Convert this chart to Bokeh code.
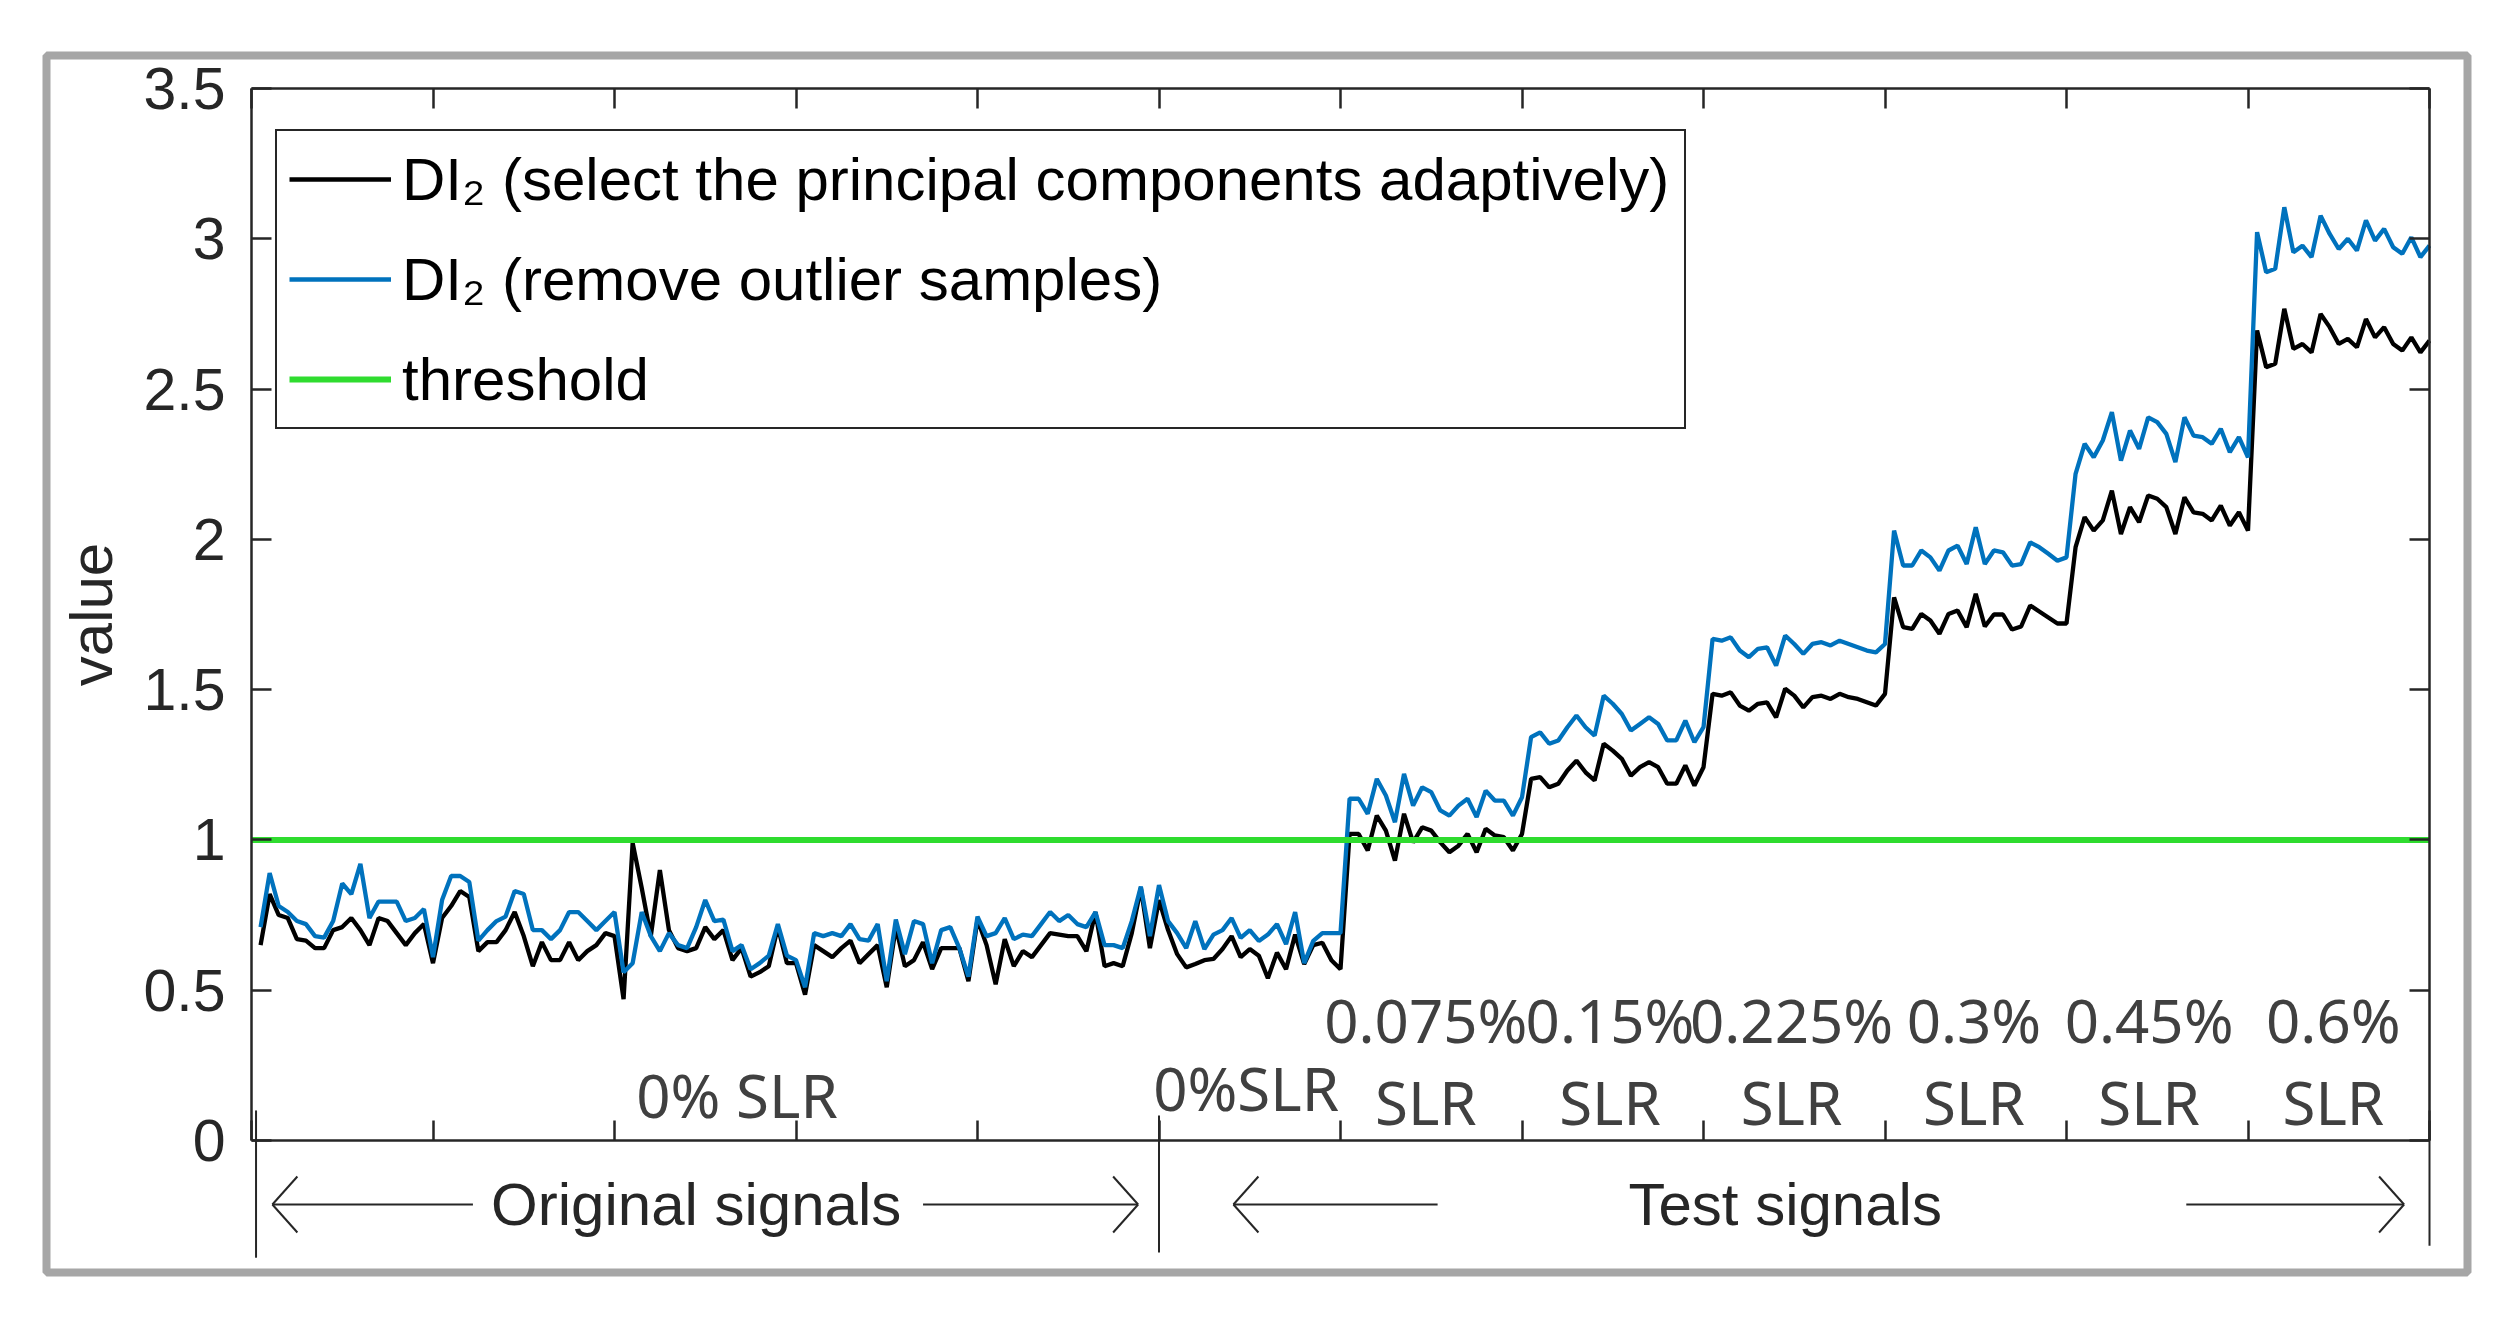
import math
from bokeh.plotting import figure
from bokeh.models import (Range1d, LinearAxis, FixedTicker, CustomJSTickFormatter,
                          Legend, LegendItem)
from bokeh.core.properties import value
from bokeh.embed import file_html
from bokeh.resources import INLINE

# ---------------- data ----------------
di2_adaptive = [
    0.65, 0.82, 0.75, 0.74, 0.67, 0.665, 0.64, 0.64, 0.70, 0.71,
    0.74, 0.70, 0.65, 0.74, 0.73, 0.69, 0.65, 0.69, 0.72, 0.59,
    0.74, 0.78, 0.83, 0.81, 0.63, 0.66, 0.66, 0.70, 0.76, 0.68,
    0.58, 0.66, 0.60, 0.60, 0.66, 0.60, 0.63, 0.65, 0.69, 0.68,
    0.47, 0.99, 0.84, 0.68, 0.90, 0.70, 0.64, 0.63, 0.64, 0.71,
    0.67, 0.70, 0.60, 0.64, 0.545, 0.56, 0.58, 0.71, 0.59, 0.59,
    0.485, 0.65, 0.63, 0.61, 0.64, 0.665, 0.59, 0.62, 0.65, 0.51,
    0.71, 0.58, 0.60, 0.66, 0.57, 0.64, 0.64, 0.64, 0.53, 0.735,
    0.65, 0.52, 0.67, 0.58, 0.63, 0.61, 0.65, 0.69, 0.685, 0.68,
    0.68, 0.63, 0.76, 0.58, 0.59, 0.58, 0.69, 0.84, 0.64, 0.80,
    0.70, 0.62, 0.576, 0.587, 0.60, 0.604, 0.637, 0.68, 0.61, 0.637,
    0.615, 0.54, 0.625, 0.57, 0.685, 0.587, 0.65, 0.658, 0.60, 0.57,
    1.020, 1.020, 0.965, 1.081, 1.031, 0.931, 1.087, 0.992, 1.042, 1.031,
    0.992, 0.959, 0.981, 1.020, 0.959, 1.037, 1.015, 1.009, 0.965, 1.020,
    1.203, 1.209, 1.175, 1.187, 1.231, 1.264, 1.225, 1.198, 1.320, 1.297,
    1.270, 1.214, 1.242, 1.259, 1.242, 1.187, 1.187, 1.248, 1.181, 1.242,
    1.486, 1.480, 1.491, 1.447, 1.430, 1.453, 1.458, 1.408, 1.503, 1.480,
    1.441, 1.475, 1.480, 1.469, 1.486, 1.475, 1.469, 1.458, 1.447, 1.486,
    1.807, 1.708, 1.702, 1.752, 1.730, 1.686, 1.752, 1.763, 1.708, 1.819,
    1.710, 1.750, 1.750, 1.700, 1.710, 1.780, 1.760, 1.740, 1.720, 1.720,
    1.974, 2.074, 2.029, 2.063, 2.162, 2.018, 2.107, 2.057, 2.146, 2.135,
    2.107, 2.018, 2.140, 2.090, 2.085, 2.063, 2.112, 2.046, 2.090, 2.029,
    2.695, 2.573, 2.584, 2.767, 2.634, 2.650, 2.622, 2.750, 2.706, 2.650,
    2.667, 2.639, 2.733, 2.672, 2.706, 2.650, 2.628, 2.672, 2.622, 2.661,
]

di2_outlier = [
    0.71, 0.89, 0.78, 0.76, 0.73, 0.72, 0.68, 0.675, 0.73, 0.855,
    0.82, 0.92, 0.74, 0.795, 0.795, 0.795, 0.73, 0.74, 0.77, 0.61,
    0.80, 0.88, 0.88, 0.86, 0.665, 0.70, 0.73, 0.745, 0.83, 0.82,
    0.70, 0.70, 0.67, 0.70, 0.76, 0.76, 0.73, 0.70, 0.73, 0.76,
    0.56, 0.59, 0.76, 0.68, 0.63, 0.69, 0.65, 0.64, 0.71, 0.80,
    0.73, 0.735, 0.63, 0.65, 0.57, 0.59, 0.615, 0.72, 0.615, 0.60,
    0.51, 0.69, 0.68, 0.69, 0.68, 0.72, 0.67, 0.665, 0.72, 0.53,
    0.735, 0.62, 0.73, 0.72, 0.59, 0.70, 0.71, 0.64, 0.545, 0.745,
    0.68, 0.69, 0.74, 0.67, 0.685, 0.68, 0.72, 0.76, 0.73, 0.75,
    0.72, 0.71, 0.76, 0.65, 0.65, 0.64, 0.73, 0.845, 0.68, 0.85,
    0.73, 0.69, 0.64, 0.73, 0.637, 0.685, 0.70, 0.74, 0.674, 0.70,
    0.664, 0.685, 0.72, 0.653, 0.76, 0.59, 0.664, 0.69, 0.69, 0.69,
    1.137, 1.137, 1.087, 1.203, 1.148, 1.059, 1.220, 1.114, 1.175, 1.159,
    1.098, 1.081, 1.114, 1.137, 1.076, 1.164, 1.131, 1.131, 1.081, 1.142,
    1.342, 1.358, 1.320, 1.331, 1.375, 1.414, 1.375, 1.347, 1.480, 1.453,
    1.419, 1.364, 1.386, 1.408, 1.386, 1.331, 1.331, 1.397, 1.325, 1.375,
    1.669, 1.663, 1.674, 1.630, 1.608, 1.636, 1.641, 1.580, 1.680, 1.652,
    1.619, 1.652, 1.658, 1.647, 1.663, 1.652, 1.641, 1.630, 1.624, 1.652,
    2.029, 1.913, 1.913, 1.963, 1.940, 1.896, 1.963, 1.979, 1.918, 2.040,
    1.918, 1.963, 1.957, 1.913, 1.918, 1.990, 1.974, 1.952, 1.929, 1.940,
    2.218, 2.318, 2.273, 2.329, 2.423, 2.262, 2.362, 2.301, 2.406, 2.390,
    2.351, 2.257, 2.406, 2.345, 2.340, 2.318, 2.368, 2.290, 2.340, 2.273,
    3.022, 2.889, 2.900, 3.105, 2.955, 2.977, 2.939, 3.077, 3.016, 2.966,
    3.000, 2.961, 3.061, 2.994, 3.033, 2.972, 2.950, 3.005, 2.939, 2.977,
]

samples = list(range(1, len(di2_adaptive) + 1))
threshold_x = [0, 240]
threshold_y = [1.0, 1.0]

legend_labels = ["DI\u2082 (select the principal components adaptively)",
                 "DI\u2082 (remove outlier samples)",
                 "threshold"]

y_ticks = [0, 0.5, 1, 1.5, 2, 2.5, 3, 3.5]
x_ticks = list(range(0, 241, 20))

group_labels = ["Original signals", "Test signals"]
group_label_x = [49.0, 169.0]
orig_label = "0% SLR"
test0_label = "0%SLR"
slr_pct_labels = ["0.075%", "0.15%", "0.225%", "0.3%", "0.45%", "0.6%"]
slr_x = [129.4, 149.7, 169.7, 189.8, 209.1, 229.4]

# ---------------- layout (pixels) ----------------
W, H = 2500, 1310
FL, FR, FT, FB = 46, 2467, 55, 1272        # plot frame = outer grey box
AXL, AXR, AXT, AXB = 251, 2429, 88, 1140   # data box (x 0..240, y 0..3.5)
sx = (AXR - AXL) / 240.0
sy = (AXB - AXT) / 3.5
x_lo = (FL - AXL) / sx
x_hi = (FR - AXL) / sx
y_hi = (AXB - FT) / sy
y_lo = (AXB - FB) / sy

AX = "#262626"
BLUE = "#0072BD"
GREEN = "#2fdc2f"
FONT = "Liberation Sans"
FONT2 = "Noto Sans"

p = figure(width=W, height=H, output_backend="svg", toolbar_location=None,
           x_range=Range1d(x_lo, x_hi), y_range=Range1d(y_lo, y_hi),
           x_axis_location=None, y_axis_location=None,
           min_border_left=FL, min_border_right=W - FR,
           min_border_top=FT, min_border_bottom=H - FB)
p.outline_line_color = "#a6a6a6"
p.outline_line_width = 8
p.outline_line_alpha = 1.0
p.xgrid.visible = False
p.ygrid.visible = False
p.background_fill_color = "white"
p.border_fill_color = "white"


def style_axis(ax):
    ax.axis_line_color = AX
    ax.axis_line_width = 2.5
    ax.major_tick_line_color = AX
    ax.major_tick_line_width = 2.5
    ax.major_tick_in = 20
    ax.major_tick_out = 0
    ax.minor_tick_line_color = None


def hide_labels(ax):
    ax.formatter = CustomJSTickFormatter(code="return ''")
    ax.major_label_text_color = None
    ax.major_label_standoff = 0


left = LinearAxis(ticker=FixedTicker(ticks=y_ticks), bounds=(0, 3.5), fixed_location=0,
                  formatter=CustomJSTickFormatter(code="return tick.toString()"))
style_axis(left)
left.major_label_text_font = FONT
left.major_label_text_font_size = "59px"
left.major_label_text_color = AX
left.major_label_standoff = 26
p.add_layout(left, "left")

right = LinearAxis(ticker=FixedTicker(ticks=y_ticks), bounds=(0, 3.5), fixed_location=240)
style_axis(right)
hide_labels(right)
p.add_layout(right, "right")

top = LinearAxis(ticker=FixedTicker(ticks=x_ticks), bounds=(0, 240), fixed_location=3.5)
style_axis(top)
hide_labels(top)
p.add_layout(top, "above")

bottom = LinearAxis(ticker=FixedTicker(ticks=x_ticks), bounds=(0, 240), fixed_location=0)
style_axis(bottom)
hide_labels(bottom)
p.add_layout(bottom, "below")

# y axis title
p.text(x=[(91 - AXL) / sx], y=[1.75], text=["value"], angle=math.pi / 2,
       text_font=value(FONT), text_font_size="60px", text_color=AX,
       text_align="center", text_baseline="middle")

# ---------------- series ----------------
r_black = p.line(samples, di2_adaptive, line_color="black", line_width=4.3)
r_blue = p.line(samples, di2_outlier, line_color=BLUE, line_width=4.3)
r_thr = p.line(threshold_x, threshold_y, line_color=GREEN, line_width=6)

legend = Legend(items=[LegendItem(label=legend_labels[0], renderers=[r_black]),
                       LegendItem(label=legend_labels[1], renderers=[r_blue]),
                       LegendItem(label=legend_labels[2], renderers=[r_thr])],
                location=(275 - FL, FB - 429), orientation="vertical", margin=0,
                padding=12, spacing=28, glyph_width=102, glyph_height=72,
                label_height=72, label_width=1270, label_standoff=11,
                label_text_font=FONT, label_text_font_size="60px",
                label_text_color="black", label_text_baseline="middle",
                border_line_color=AX, border_line_width=2.5, border_line_alpha=1.0,
                background_fill_color="white", background_fill_alpha=1.0)
p.add_layout(legend)

# ---------------- separators and arrows below the axis ----------------
sep_x = [0.5, 100, 240]
sep_top = [0.10, 0.083, 0.10]
sep_bot = [-0.39, -0.373, -0.35]
p.segment(x0=sep_x, y0=sep_top, x1=sep_x, y1=sep_bot, line_color=AX, line_width=2)

arrow_y = -0.213
arrow_tip = [2.3, 97.7, 108.2, 237.2]
arrow_tail = [24.4, 74.0, 130.7, 213.2]
head_dx = 25 / sx
head_dy = 28 / sy
p.segment(x0=arrow_tail, y0=[arrow_y] * 4, x1=arrow_tip, y1=[arrow_y] * 4,
          line_color=AX, line_width=2)
hx0, hy0, hx1, hy1 = [], [], [], []
for tip, tail in zip(arrow_tip, arrow_tail):
    d = 1 if tail > tip else -1
    for s in (1, -1):
        hx0.append(tip)
        hy0.append(arrow_y)
        hx1.append(tip + d * head_dx)
        hy1.append(arrow_y + s * head_dy)
p.segment(x0=hx0, y0=hy0, x1=hx1, y1=hy1, line_color=AX, line_width=2)

p.text(x=group_label_x, y=[arrow_y] * 2, text=group_labels,
       text_font=value(FONT), text_font_size="60px", text_color=AX,
       text_align="center", text_baseline="middle")

p.text(x=[53.5], y=[0.15], text=[orig_label], text_font=value(FONT2),
       text_font_size="60px", text_color="#404040", text_align="center",
       text_baseline="middle")
p.text(x=[109.6], y=[0.176], text=[test0_label], text_font=value(FONT2),
       text_font_size="60px", text_color="#404040", text_align="center",
       text_baseline="middle")
p.text(x=slr_x, y=[0.40] * len(slr_x), text=slr_pct_labels, text_font=value(FONT2),
       text_font_size="60px", text_color="#404040", text_align="center",
       text_baseline="middle")
p.text(x=slr_x, y=[0.128] * len(slr_x), text=["SLR"] * len(slr_x),
       text_font=value(FONT2), text_font_size="60px", text_color="#404040",
       text_align="center", text_baseline="middle")

open("out.html", "w").write(file_html(p, INLINE))
